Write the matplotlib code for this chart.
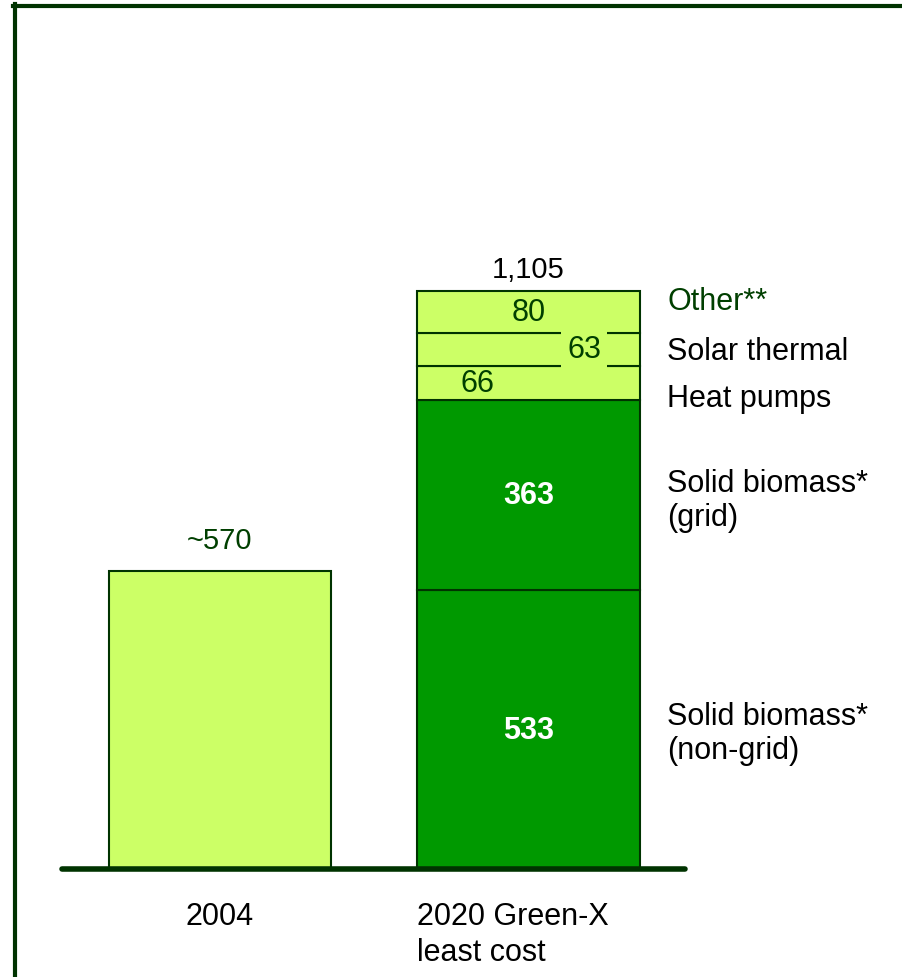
import matplotlib.pyplot as plt
from matplotlib.lines import Line2D

plt.rcParams['font.family'] = ['Liberation Sans', 'DejaVu Sans']

# Data
categories = ['2004', '2020 Green-X\nleast cost']
total_2004 = 570
segments_2020 = ['Solid biomass*\n(non-grid)', 'Solid biomass*\n(grid)', 'Heat pumps', 'Solar thermal', 'Other**']
values_2020 = [533, 363, 66, 63, 80]
total_2020 = 1105

light = '#CCFF66'
dark = '#009900'
edge = '#003300'
txt_green = '#003f00'
seg_colors = [dark, dark, light, light, light]
fs = 22

fig = plt.figure(figsize=(9.03, 9.78), dpi=100)
# axes placed in pixel terms: baseline at y=870, x from 62 to 685
ax = fig.add_axes([62 / 903, (978 - 870) / 978, 623 / 903, 820 / 978])
ax.set_xlim(-0.512, 1.507)
ax.set_ylim(0, 1568)
w = 0.72

ax.bar(0, total_2004, width=w, color=light, edgecolor=edge, linewidth=1.5, zorder=2)
ax.text(0, total_2004 + 60, '~570', ha='center', va='center', fontsize=fs - 1, color=txt_green)

bottom = 0
for name, v, c in zip(segments_2020, values_2020, seg_colors):
    ax.bar(1, v, width=w, bottom=bottom, color=c, edgecolor=edge, linewidth=1.5, zorder=2)
    bottom += v

# value labels inside 2020 bar
cum = [sum(values_2020[:i]) + values_2020[i] / 2 for i in range(len(values_2020))]
ax.text(1, cum[0], '533', ha='center', va='center', fontsize=fs, fontweight='bold', color='white', zorder=3)
ax.text(1, cum[1], '363', ha='center', va='center', fontsize=fs, fontweight='bold', color='white', zorder=3)
ax.text(0.835, cum[2], '66', ha='center', va='center', fontsize=fs, color=txt_green, zorder=3)
ax.text(1.18, cum[3], '63', ha='center', va='center', fontsize=fs, color=txt_green, zorder=3,
        bbox=dict(boxstyle='square,pad=0.2', facecolor=light, edgecolor='none'))
ax.text(1, cum[4], '80', ha='center', va='center', fontsize=fs, color=txt_green, zorder=3)
ax.text(1, total_2020 + 42, '1,105', ha='center', va='center', fontsize=fs - 1, color='black')

# series labels on the right
label_y = [260, 706, 900, 990, 1086]
label_colors = ['black', 'black', 'black', 'black', txt_green]
for name, y, c in zip(segments_2020, label_y, label_colors):
    ax.text(1.449, y, name, ha='left', va='center', fontsize=fs, color=c, linespacing=1.18)

ax.axhline(0, color=edge, linewidth=4, solid_capstyle='round', clip_on=False, zorder=4)

# category labels under the baseline
ax.text(0, -61, categories[0], ha='center', va='top', fontsize=fs, linespacing=1.25)
ax.text(1 - w / 2, -61, categories[1], ha='left', va='top', fontsize=fs, linespacing=1.25)

ax.set_xticks([])
ax.set_yticks([])
for s in ax.spines.values():
    s.set_visible(False)

# frame lines (top and left)
fig.add_artist(Line2D([13.5 / 903, 1], [1 - 7 / 978, 1 - 7 / 978], color=edge, linewidth=3,
                      transform=fig.transFigure))
fig.add_artist(Line2D([15.5 / 903, 15.5 / 903], [0, 1 - 5 / 978], color=edge, linewidth=3,
                      transform=fig.transFigure))

fig.savefig('out.png', dpi=100)
